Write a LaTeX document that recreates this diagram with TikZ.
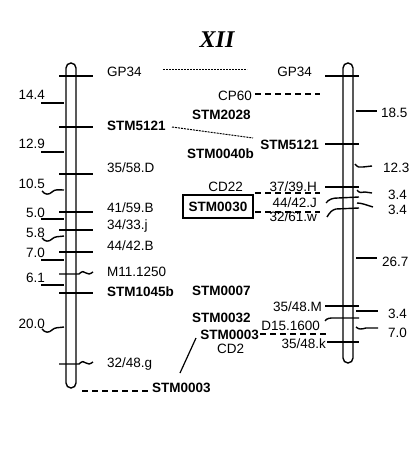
\documentclass[tikz,border=0pt]{standalone}
\usepackage{fontspec}
\setmainfont{Liberation Sans}
\newfontfamily\titlefont{Liberation Serif}
\begin{document}
\begin{tikzpicture}[x=1pt,y=-1pt,
  lbl/.style={inner sep=0pt, font=\fontsize{13.5}{16}\selectfont},
  blbl/.style={inner sep=0pt, font=\fontsize{13.5}{16}\selectfont\bfseries},
  tick/.style={line width=1.4pt},
  chrom/.style={line width=1.4pt, rounded corners=5pt},
  dsh/.style={line width=1.3pt, dash pattern=on 6pt off 4pt},
  dotl/.style={line width=1pt, dash pattern=on 2pt off 1pt}]
\useasboundingbox (0,0) rectangle (416,462);

% title
\node[inner sep=0pt, font=\titlefont\fontsize{24}{28}\selectfont\bfseries\itshape] (title) at (217,40) {XII};

% chromosomes
\draw[chrom] (66,63) rectangle (76,388);
\draw[chrom] (343,63) rectangle (353,363);

% ---- left chromosome marker ticks
\foreach \y in {76,127,174,212,230,252,293} \draw[tick] (59,\y) -- (93,\y);
\draw[tick] (59,274) -- (79,274) .. controls (82,271) and (84,271) .. (86,273) .. controls (88,275) and (90,274) .. (93,272);
\draw[tick] (59,364) -- (79,364) .. controls (82,361) and (84,361) .. (86,363) .. controls (88,365) and (90,364) .. (93,362);

% left marker labels
\node[lbl, anchor=base west] (lgp) at (107,77) {GP34};
\node[blbl, anchor=base west] (l5121) at (107,131) {STM5121};
\node[lbl, anchor=base west] (l3558) at (107,172) {35/58.D};
\node[lbl, anchor=base west] (l4159) at (107,212) {41/59.B};
\node[lbl, anchor=base west] (l3433) at (107,229) {34/33.j};
\node[lbl, anchor=base west] (l4442) at (107,250) {44/42.B};
\node[lbl, anchor=base west] (lm11) at (107,276) {M11.1250};
\node[blbl, anchor=base west] (l1045) at (107,296) {STM1045b};
\node[lbl, anchor=base west] (l3248) at (107,367) {32/48.g};

% left distance ticks
\draw[tick] (41,103) -- (64,103);
\draw[tick] (41,152) -- (64,152);
\draw[tick] (42,191) .. controls (45,195) and (49,195) .. (52,192) .. controls (55,189) and (58,190) .. (64,190);
\draw[tick] (41,219) -- (64,219);
\draw[tick] (42,238) .. controls (45,242) and (49,242) .. (52,239) .. controls (55,236) and (58,237) .. (64,236);
\draw[tick] (41,260) -- (64,260);
\draw[tick] (41,285) -- (64,285);
\draw[tick] (42,329) .. controls (45,333) and (49,333) .. (52,330) .. controls (55,327) and (58,328) .. (64,327);

% left distance labels
\node[lbl, anchor=base east] (d144) at (45,100) {14.4};
\node[lbl, anchor=base east] (d129) at (45,149) {12.9};
\node[lbl, anchor=base east] (d105) at (45,189) {10.5};
\node[lbl, anchor=base east] (d50) at (45,217) {5.0};
\node[lbl, anchor=base east] (d58) at (45,237) {5.8};
\node[lbl, anchor=base east] (d70) at (45,257) {7.0};
\node[lbl, anchor=base east] (d61) at (45,282) {6.1};
\node[lbl, anchor=base east] (d200) at (45,328) {20.0};

% ---- right chromosome marker ticks
\foreach \y in {76,144,187,306} \draw[tick] (325,\y) -- (359,\y);
\draw[tick] (327,342) -- (359,342);
\draw[tick] (326,203) .. controls (329,199) and (333,198) .. (338,198) -- (359,197);
\draw[tick] (327,217) .. controls (330,212) and (332,210) .. (336,209) -- (359,208);
\draw[tick] (325,321) .. controls (327,318) and (330,318) .. (334,318) -- (359,318);

% right marker labels
\node[lbl, anchor=base east] (rgp) at (312,77) {GP34};
\node[lbl, anchor=base east] (rcp60) at (252,101) {CP60};
\node[blbl, anchor=base west] (r2028) at (192,120) {STM2028};
\node[blbl, anchor=base east] (r5121) at (319,150) {STM5121};
\node[blbl, anchor=base west] (r0040) at (187,159) {STM0040b};
\node[lbl, anchor=base east] (rcd22) at (243,192) {CD22};
\node[lbl, anchor=base east] (r3739) at (317,191) {37/39.H};
\node[blbl, draw, line width=1.3pt, minimum width=70pt, minimum height=23pt] (r0030) at (218,206.5) {STM0030};
\node[lbl, anchor=base east] (r4442) at (317,207) {44/42.J};
\node[lbl, anchor=base east] (r3261) at (317,221) {32/61.w};
\node[blbl, anchor=base west] (r0007) at (192,295) {STM0007};
\node[lbl, anchor=base east] (r3548m) at (322,311) {35/48.M};
\node[blbl, anchor=base west] (r0032) at (192,322) {STM0032};
\node[lbl, anchor=base east] (rd15) at (320,330) {D15.1600};
\node[blbl, anchor=base east] (r0003) at (259,339) {STM0003};
\node[lbl, anchor=base east] (r3548k) at (326,348) {35/48.k};
\node[lbl, anchor=base west] (rcd2) at (217,353) {CD2};
\node[blbl, anchor=base west] (b0003) at (152,392) {STM0003};

% right distance ticks
\draw[tick] (356,111) -- (377,111);
\draw[tick] (355,164) .. controls (357,167) and (360,168) .. (363,167) -- (372,166);
\draw[tick] (357,190) .. controls (359,193) and (362,193) .. (365,192) -- (372,193);
\draw[tick] (357,203) .. controls (362,203) and (366,205) .. (373,207);
\draw[tick] (356,258) -- (377,258);
\draw[tick] (356,311) -- (378,311);
\draw[tick] (356,327) .. controls (359,330) and (362,329) .. (366,328) -- (378,328);

% right distance labels
\node[lbl, anchor=base west] (e185) at (381,118) {18.5};
\node[lbl, anchor=base west] (e123) at (383,173) {12.3};
\node[lbl, anchor=base west] (e34a) at (388,200) {3.4};
\node[lbl, anchor=base west] (e34b) at (388,214) {3.4};
\node[lbl, anchor=base west] (e267) at (382,266) {26.7};
\node[lbl, anchor=base west] (e34c) at (388,318) {3.4};
\node[lbl, anchor=base west] (e70) at (388,337) {7.0};

% ---- connectors
\coordinate (gpA) at (163,70);
\coordinate (gpB) at (247,70);
\draw[dotl] (gpA) -- (gpB);
\coordinate (s5A) at (172,127);
\coordinate (s5B) at (253,138);
\draw[dotl] (s5A) -- (s5B);
\coordinate (cpB) at (320,94);
\draw[dsh] (255,94) -- (cpB);
\coordinate (cdB) at (320,193);
\draw[dsh] (255,193) -- (cdB);
\coordinate (s30B) at (320,212);
\draw[dsh] (255,212) -- (s30B);
\coordinate (s03B) at (328,334);
\draw[dsh] (260,334) -- (s03B);
\coordinate (bA) at (82,391);
\draw[dsh] (bA) -- (148,391);
\coordinate (slA) at (196,338);
\coordinate (slB) at (180,373);
\draw[line width=1.2pt] (slA) -- (slB);
\end{tikzpicture}
\end{document}
